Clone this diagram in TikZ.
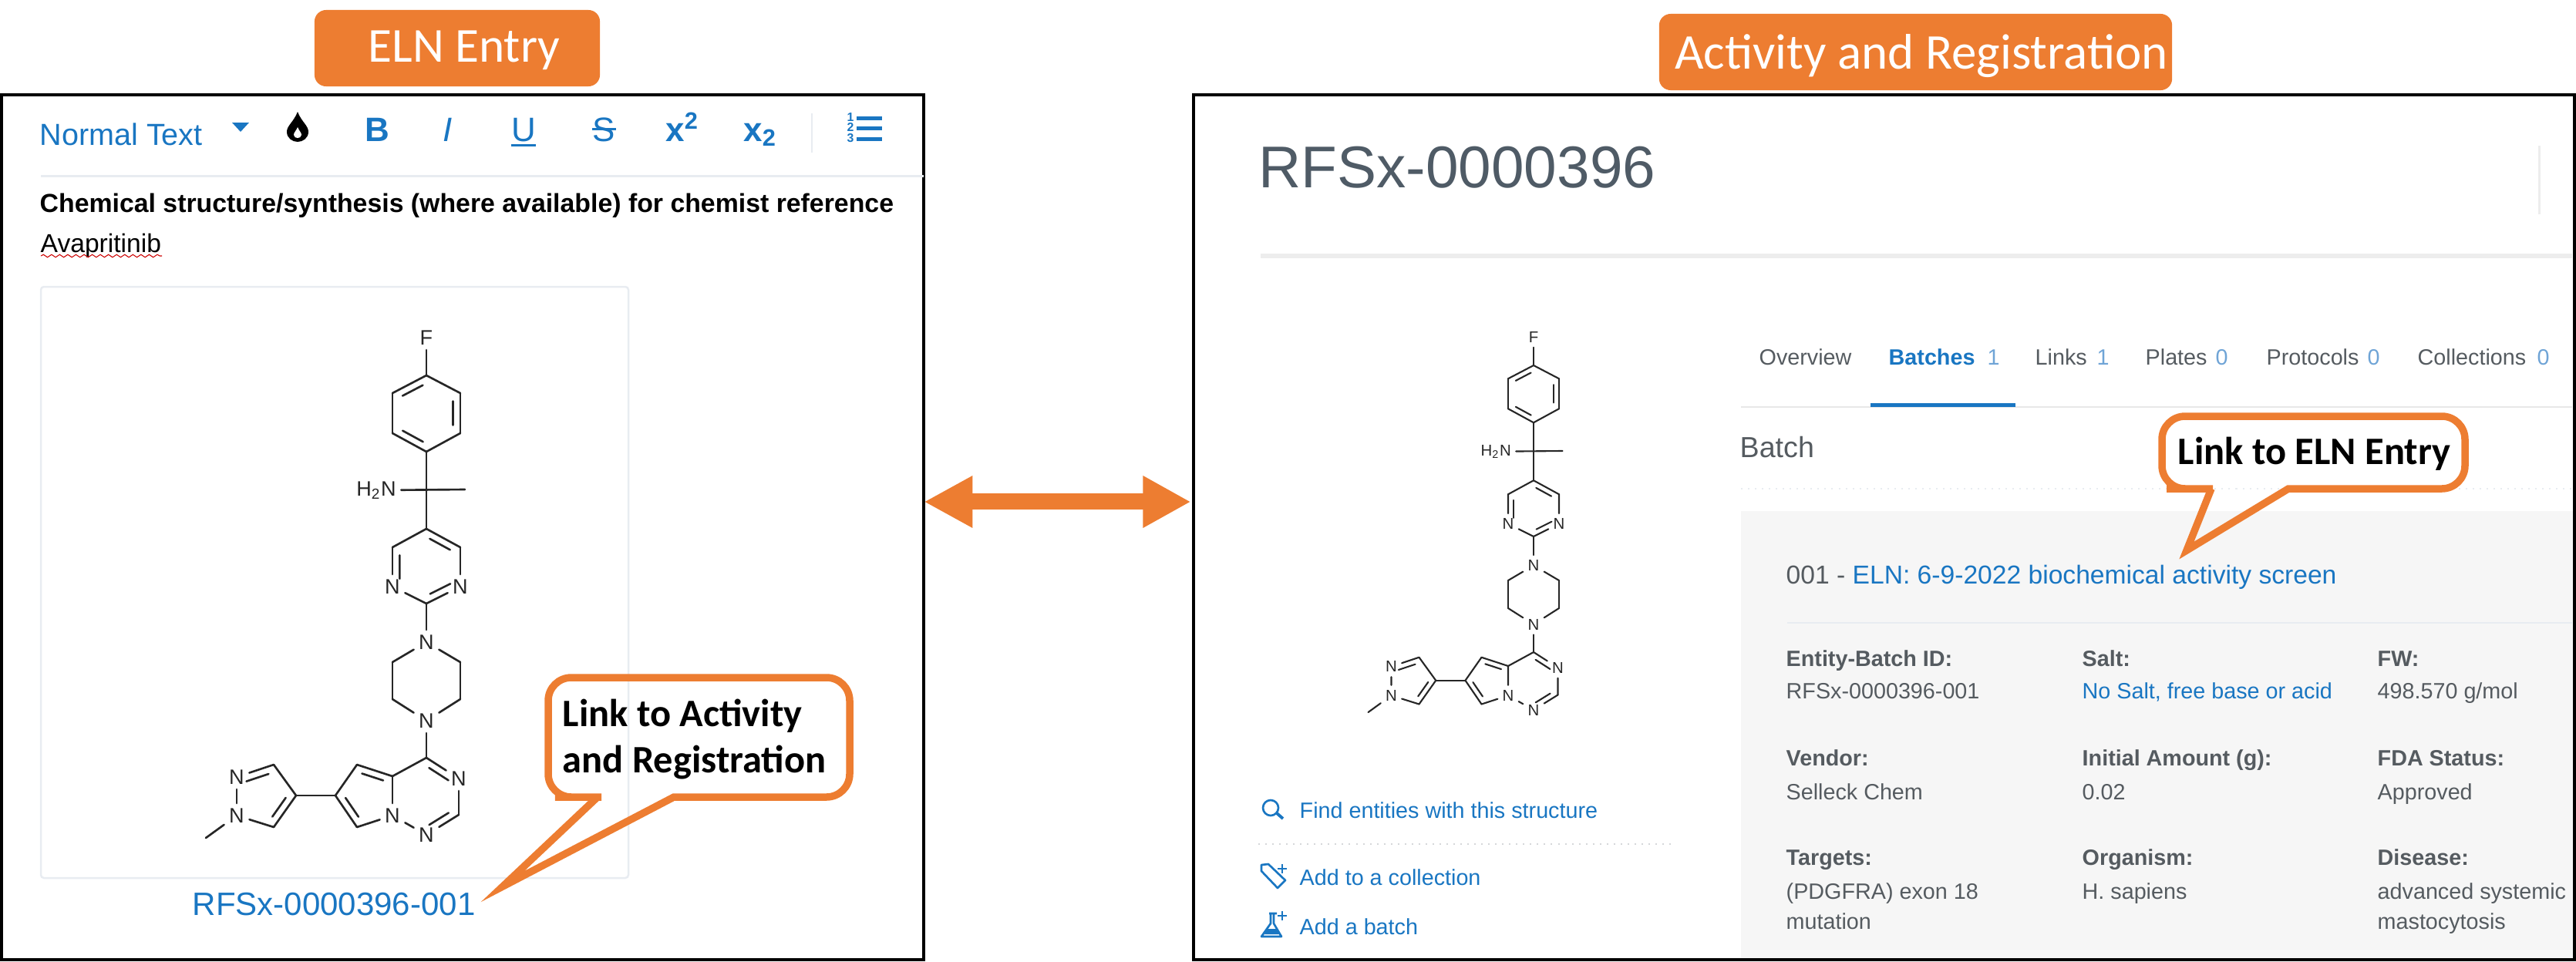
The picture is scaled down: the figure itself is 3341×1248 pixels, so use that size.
\documentclass[tikz,border=0pt]{standalone}
\usepackage{fontspec}
\setmainfont{Liberation Sans}
\newfontfamily\calibri{Carlito}
\usetikzlibrary{arrows.meta,calc,decorations.pathmorphing}
\definecolor{accent}{HTML}{ED7D31}
\definecolor{linkblue}{HTML}{1976C2}
\definecolor{softblue}{HTML}{6FA4D6}
\definecolor{textgray}{HTML}{555B60}
\definecolor{titlegray}{HTML}{4F5B66}
\definecolor{rulegray}{HTML}{E8ECF1}
\definecolor{boxgray}{HTML}{F6F6F6}
\newcommand{\fsz}[1]{\fontsize{#1}{#1}\selectfont}
\tikzset{
  panel/.style={draw=black,line width=.04cm,inner sep=0,outer sep=0,minimum height=11.22cm},
  badge/.style={fill=accent,rounded corners=.15cm,text=white,inner sep=0,minimum height=.99cm,font=\calibri\fsz{18}},
  txt/.style={inner sep=0,anchor=base west},
  tool/.style={inner sep=0,anchor=base,text=linkblue,font=\bfseries\fsz{12.5}},
  tab/.style={txt,text=textgray,font=\fsz{8.17}},
  num/.style={txt,text=softblue,font=\fsz{8.17}},
  lbl/.style={txt,text=textgray,font=\bfseries\fsz{8.17}},
  val/.style={txt,text=textgray,font=\fsz{8.17}},
  lnk/.style={txt,text=linkblue,font=\fsz{8.17}},
  icon/.style={draw=linkblue,line width=.75pt,line join=round},
  callout/.style={draw=accent,line width=.095cm},
  calloutlbl/.style={txt,text=black,font=\calibri\bfseries\fsz{14.35}},
  atom/.style={inner sep=1.5pt,text=black!85},
  molL/.style={scale=1,line width=.75pt,font=\fsz{7.7}},
  molR/.style={scale=.75,line width=.6pt,font=\fsz{5.8}},
}
\newcommand{\drawmol}[4]{%
  \begin{scope}[shift={(#2,#3)},name prefix=#1-,draw=black!85,line cap=round,#4]
    \foreach \n/\x/\y in {c0/0/0,me1/50/0,
      a1/0/-148,a2/44/-125,a3/44/-73,a4/0/-49,a5/-44/-73,a6/-44/-125,
      p1/0/51,p2/44/75,p4/0/148,p6/-44/75,
      q2/44/224,q3/44/272,q5/-44/272,q6/-44/224,
      r1/0/348,r3/42/422,r6/-44/372,
      s1/-90/357,s2/-118/397,s3/-90/438,
      t1/-169/397,t2/-198/357,t5/-198/438,me2/-286/452}
      \coordinate (\n) at (\x,\y);
    \foreach \n/\x/\y in {p3/44/126,p5/-44/126,q1/0/198,q4/0/300,
      r2/42/375,r4/0/448,r5/-44/423,t3/-246/373,t4/-246/423}
      \node[atom] (\n) at (\x,\y) {N};
    \node[atom] (fl) at (0,-197) {F};
    \node[atom] (amine) at (-65,1) {H\textsubscript{2}N};
    \foreach \u/\v in {fl/a1,a1/a2,a2/a3,a3/a4,a4/a5,a5/a6,a6/a1,a4/c0,c0/p1,amine/me1,
      p1/p2,p2/p3,p3/p4,p4/p5,p5/p6,p6/p1,p4/q1,
      q1/q2,q2/q3,q3/q4,q4/q5,q5/q6,q6/q1,q4/r1,
      r1/r2,r2/r3,r3/r4,r4/r5,r5/r6,r6/r1,
      r6/s1,s1/s2,s2/s3,s3/r5,s2/t1,
      t1/t2,t2/t3,t3/t4,t4/t5,t5/t1,t4/me2}
      \draw (\u) -- (\v);
    \foreach \u/\v in {a2/a3,a4/a5,a6/a1,p1/p2,p3/p4,p5/p6,r1/r2,r3/r4,s1/r6,s3/s2,t1/t5,t3/t2}
      \draw ($(\u)!.2!(\v)!.23!-90:(\v)$) -- ($(\v)!.2!(\u)!.23!90:(\u)$);
  \end{scope}}

\begin{document}
\begin{tikzpicture}[x=.01cm,y=-.01cm]
  \useasboundingbox (0,0) rectangle (3341,1248);
  \fill[boxgray] (2258,663) rectangle (3338,1245);
  \node[panel,minimum width=11.96cm] (eln) at (600,684) {};
  \node[panel,minimum width=17.89cm] (reg) at (2443.5,684) {};
  \node[badge,minimum width=3.7cm,text height=.35cm,text depth=0pt] (elnBadge) at (593,62.5) {\hspace*{.18cm}ELN Entry};
  \node[badge,minimum width=6.65cm,text height=.43cm,text depth=0pt,font=\calibri\fsz{18.45}] (regBadge) at (2484.5,67.5) {\hspace*{.15cm}Activity and Registration};
  \draw[accent,line width=.21cm,shorten >=.04cm,{Triangle[length=.63cm,width=.63cm]}-{Triangle[length=.62cm,width=.63cm]}] ([yshift=.33cm]eln.east) -- ([yshift=.33cm]reg.west);

  \node[txt,text=linkblue,font=\fsz{11.25}] (normal) at (51,188) {Normal Text};
  \fill[linkblue] (301,159) -- (323,159) -- (312,171) -- cycle;
  \fill[black] (386,145) .. controls (381,158) and (372,163) .. (372,171) .. controls (372,179) and (379,184) .. (386,184) .. controls (393,184) and (400,179) .. (400,171) .. controls (400,163) and (391,158) .. (386,145);
  \fill[white] (386,165) .. controls (384,170) and (381,172) .. (381,175) .. controls (381,178) and (384,179) .. (386,179) .. controls (388,179) and (391,178) .. (391,175) .. controls (391,172) and (388,170) .. (386,165);
  \node[tool] (boldB) at (489,183) {B};
  \node[tool,font=\itshape\fsz{12.5}] (italI) at (581,183) {I};
  \node[tool,font=\fsz{12.5}] (underU) at (679,183) {U};
  \draw[linkblue,line width=.03cm] (663,188) -- (695,188);
  \node[tool,font=\fsz{12.5}] (strikeS) at (783,183) {S};
  \draw[linkblue,line width=.03cm] (768,167) -- (799,167);
  \node[tool] (supX) at (885,183) {x\textsuperscript{2}};
  \node[tool] (subX) at (986,183) {x\textsubscript{2}};
  \draw[rulegray,line width=.02cm] (1053,147) -- (1053,198);
  \foreach \i/\y in {1/153,2/166,3/180}{
    \draw[linkblue,line width=.05cm] (1111,\y) -- (1144,\y);
    \node[inner sep=0,text=linkblue,font=\bfseries\fsz{4.5}] (listnum\i) at (1103,\y-1) {\i};
  }
  \draw[rulegray,line width=.03cm] (53,228) -- (1198,228);
  \node[txt,font=\bfseries\fsz{9.62}] (heading) at (51,275) {Chemical structure/synthesis (where available) for chemist reference};
  \node[txt,font=\fsz{9.56}] (drug) at (52,327) {Avapritinib};
  \draw[red!80!black,line width=.3pt,decorate,decoration={snake,amplitude=.5pt,segment length=3pt}] (53,332) -- (210,332);
  \draw[rulegray,line width=.025cm,rounded corners=.04cm] (53,372) rectangle (815,1139);
  \drawmol{L}{553}{635}{molL}
  \node[txt,text=linkblue,font=\fsz{11.95}] (entryId) at (249,1187) {RFSx-0000396-001};

  \node[txt,text=titlegray,font=\fsz{21.75}] (title) at (1632,243) {RFSx-0000396};
  \draw[black!7,line width=.06cm] (1635,332) -- (3336,332);
  \draw[black!7,line width=.03cm] (3293,189) -- (3293,278);
  \drawmol{R}{1989}{585}{molR}
  \foreach \n/\x/\t in {ov/2281/Overview,li/2639/Links,pl/2782/Plates,pr/2939/Protocols,co/3135/Collections}
    \node[tab] (tab\n) at (\x,473) {\t};
  \node[tab,text=linkblue,font=\bfseries\fsz{8.17}] (tabba) at (2449,473) {Batches};
  \foreach \n/\x/\t in {ba/2577/1,li/2719/1,pl/2873/0,pr/3070/0,co/3290/0}
    \node[num] (num\n) at (\x,473) {\t};
  \draw[black!9,line width=.02cm] (2258,528) -- (3336,528);
  \fill[linkblue] (2426,523) rectangle (2614,528);
  \node[txt,text=textgray,font=\fsz{10.7}] (batch) at (2256,593) {Batch};
  \draw[rulegray,line width=.02cm,dotted] (2258,634) -- (3336,634);
  \node[txt,text=textgray,font=\fsz{9.56}] (batchNo) at (2316,757) {001 - \textcolor{linkblue}{ELN: 6-9-2022 biochemical activity screen}};
  \draw[rulegray,line width=.025cm] (2318,808) -- (3336,808);
  \foreach \n/\x/\y/\t in {a/2316/864/Entity-Batch ID:,b/2700/864/Salt:,c/3083/864/FW:,
    d/2316/993/Vendor:,e/2700/993/Initial Amount (g):,f/3083/993/FDA Status:,
    g/2316/1122/Targets:,h/2700/1122/Organism:,i/3083/1122/Disease:}
    \node[lbl] (lbl\n) at (\x,\y) {\t};
  \foreach \n/\x/\y/\t in {a/2316/906/RFSx-0000396-001,d/2316/1037/Selleck Chem,e/2700/1037/0.02,f/3083/1037/Approved,
    g/2316/1166/(PDGFRA) exon 18,m/2316/1205/mutation,h/2700/1166/H. sapiens,i/3083/1166/advanced systemic,n/3083/1205/mastocytosis}
    \node[val] (val\n) at (\x,\y) {\t};
  \node[val] (valc) at (3083,906) {498.570 g/mol};
  \node[lnk] (valb) at (2700,906) {No Salt, free base or acid};

  \foreach \n/\y/\t in {find/1061/Find entities with this structure,coll/1148/Add to a collection,addb/1212/Add a batch}
    \node[lnk] (\n) at (1685,\y) {\t};
  \draw[icon] (1648,1048) circle (10);
  \draw[icon,line width=1.1pt] (1656,1055) -- (1664,1062);
  \draw[rulegray!80!black!60,line width=.02cm,dotted] (1632,1095) -- (2172,1095);
  \draw[icon] (1636,1122) -- (1645,1121) -- (1667,1142) -- (1657,1152) -- (1636,1130) -- cycle;
  \draw[icon] (1657,1127) -- (1669,1127) (1663,1121) -- (1663,1133);
  \draw[icon] (1646,1185) -- (1656,1185) (1648,1185) -- (1648,1198) -- (1636,1215) -- (1662,1215) -- (1652,1198) -- (1652,1185);
  \fill[linkblue] (1643,1205) -- (1656,1205) -- (1659,1212) -- (1640,1212) -- cycle;
  \draw[icon] (1657,1188) -- (1669,1188) (1663,1182) -- (1663,1194);

  \coordinate (tipEntry) at (652,1150);
  \draw[callout] (775,1034) -- (tipEntry) -- (874,1034) -- (900,1034) [rounded corners=.3cm] -- (1102,1034) -- (1102,879) -- (711,879) -- (711,1034) -- (750,1034) -- (775,1034);
  \node[calloutlbl] (linkReg1) at (729,942) {Link to Activity};
  \node[calloutlbl] (linkReg2) at (729,1002) {and Registration};
  \coordinate (tipBatch) at (2836,714);
  \draw[callout] (2868,634) -- (tipBatch) -- (2968,634) -- (2990,634) [rounded corners=.3cm] -- (3197,634) -- (3197,540) -- (2804,540) -- (2804,634) -- (2840,634) -- (2868,634);
  \node[calloutlbl] (linkEln) at (2824,602) {Link to ELN Entry};
\end{tikzpicture}
\end{document}
